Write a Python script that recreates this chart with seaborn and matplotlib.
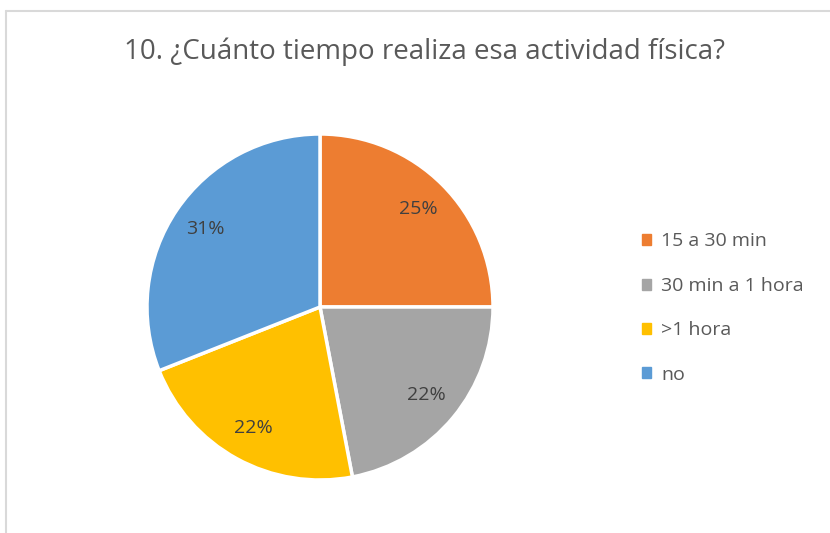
import numpy as np
import matplotlib
matplotlib.use("Agg")
import matplotlib.pyplot as plt
import seaborn as sns
from matplotlib.lines import Line2D
from matplotlib.patches import Patch

# datos del gráfico
categorias = ["15 a 30 min", "30 min a 1 hora", ">1 hora", "no"]
porcentajes = [25, 22, 22, 31]
colores = ["#ED7D31", "#A5A5A5", "#FFC000", "#5B9BD5"]
titulo = "10. ¿Cuánto tiempo realiza esa actividad física?"

sns.set_theme(style="white")
plt.rcParams['font.family'] = ['Open Sans', 'DejaVu Sans']

W, H = 830, 533
fig = plt.figure(figsize=(W / 100, H / 100), dpi=100)
fig.patch.set_facecolor("white")

# borde del área del gráfico (solo arriba e izquierda visibles)
fig.add_artist(Line2D([6 / W, 6 / W], [0, 1 - 11 / H], color="#D9D9D9", lw=1.5))
fig.add_artist(Line2D([6 / W, 1], [1 - 11 / H, 1 - 11 / H], color="#D9D9D9", lw=1.5))

# gráfico de pastel
cx, cy, r = 320, 307, 173
ax = fig.add_axes([(cx - r) / W, (H - cy - r) / H, 2 * r / W, 2 * r / H])
wedges, textos, autotextos = ax.pie(
    porcentajes, colors=colores, startangle=90, counterclock=False,
    autopct='%1.0f%%', pctdistance=0.80,
    wedgeprops=dict(edgecolor="white", linewidth=2.5),
    textprops=dict(color="#404040", fontsize=14),
)
ax.set_xlim(-1, 1)
ax.set_ylim(-1, 1)
ax.set_aspect("equal")

fig.text(424 / W, 1 - 52 / H, titulo, ha="center", va="center",
         fontsize=20, color="#595959")

# leyenda
handles = [Patch(facecolor=c, edgecolor=c) for c in colores]
fig.legend(handles, categorias, loc="upper left", bbox_to_anchor=(624 / W, 1 - 215 / H),
           frameon=False, fontsize=14, labelcolor="#595959",
           handlelength=0.5, handleheight=0.5, handletextpad=0.5,
           labelspacing=1.36)

fig.savefig("out.png", dpi=100)
